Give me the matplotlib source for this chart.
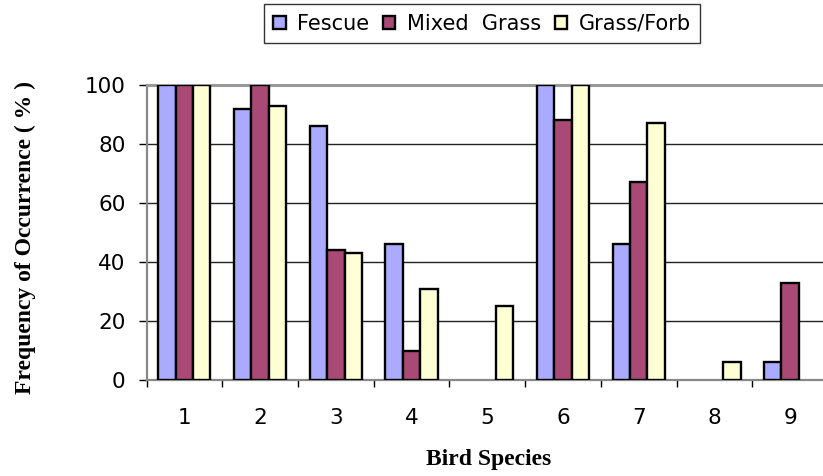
import numpy as np
import matplotlib
matplotlib.use("Agg")
import matplotlib.pyplot as plt
from matplotlib.patches import Patch
from matplotlib.ticker import FixedLocator

# values (% occurrence)
species = ["1", "2", "3", "4", "5", "6", "7", "8", "9"]
fescue = [100, 92, 86, 46, 0, 100, 46, 0, 6]
mixed_grass = [100, 100, 44, 10, 0, 88, 67, 0, 33]
grass_forb = [100, 93, 43, 31, 25, 100, 87, 6, 0]

series_names = ["Fescue", "Mixed  Grass", "Grass/Forb"]
colors = ["#AAAAFF", "#A94A76", "#FFFFD4"]

fig = plt.figure(figsize=(8.23, 4.76), dpi=100)
fig.patch.set_facecolor("white")
W, H = 823, 476
# plot area (pixel bounds from the reference; right side runs off the image)
x0, x1, ytop, ybot = 146.5, 828.0, 85.0, 380.0
ax = fig.add_axes([x0 / W, 1 - ybot / H, (x1 - x0) / W, (ybot - ytop) / H])

x = np.arange(1, len(species) + 1)
bw = 0.23
for k, (vals, col, name) in enumerate(zip([fescue, mixed_grass, grass_forb], colors, series_names)):
    vals = np.array(vals, dtype=float)
    keep = vals > 0  # Excel draws nothing for a zero value
    ax.bar(x[keep] + (k - 1) * bw, vals[keep], width=bw, color=col, edgecolor="black",
           linewidth=1.7, label=name, zorder=3)

ax.set_xlim(0.5, 9.5)
ax.set_ylim(0, 100)

# ticks: marks at category boundaries, labels at centres
ax.xaxis.set_major_locator(FixedLocator(np.arange(0.5, 10.0, 1.0)))
ax.xaxis.set_minor_locator(FixedLocator(x))
ax.set_xticklabels([])
ax.set_xticklabels(species, minor=True)
ax.tick_params(axis="x", which="major", direction="out", length=5, width=1, color="black")
ax.tick_params(axis="x", which="minor", length=0, pad=20, labelsize=15.5)
ax.set_yticks([0, 20, 40, 60, 80, 100])
ax.tick_params(axis="y", direction="out", length=6, width=1, color="black", pad=9, labelsize=15.5)

ax.yaxis.grid(True, color="#222222", linewidth=1.0, zorder=0)
ax.set_axisbelow(True)

ax.spines["right"].set_visible(False)
ax.spines["top"].set_color("#999999")
ax.spines["top"].set_linewidth(2.2)
ax.spines["left"].set_color("#888888")
ax.spines["left"].set_linewidth(1.6)
ax.spines["bottom"].set_color("#888888")
ax.spines["bottom"].set_linewidth(1.6)

ax.set_xlabel("Bird Species", family="Liberation Serif", fontweight="bold", fontsize=17, va="center")
ax.xaxis.set_label_coords((489 - x0) / (x1 - x0), (ybot - 460) / (ybot - ytop))
ax.set_ylabel("Frequency of Occurrence ( % )", family="Liberation Serif", fontweight="bold",
              fontsize=17, va="center")
ax.yaxis.set_label_coords((25 - x0) / (x1 - x0), (ybot - 237) / (ybot - ytop))

handles = [Patch(facecolor=c, edgecolor="black", linewidth=1.7) for c in colors]
leg = fig.legend(handles, series_names, loc="center", bbox_to_anchor=(482 / W, 1 - 23.5 / H),
                 ncol=3, fontsize=15, frameon=True, fancybox=False, shadow=False,
                 handlelength=0.6, handleheight=0.6, handletextpad=0.55, columnspacing=0.65,
                 borderpad=0.45, borderaxespad=0)
leg.get_frame().set_edgecolor("black")
leg.get_frame().set_linewidth(1.0)

fig.savefig("out.png", dpi=100)
